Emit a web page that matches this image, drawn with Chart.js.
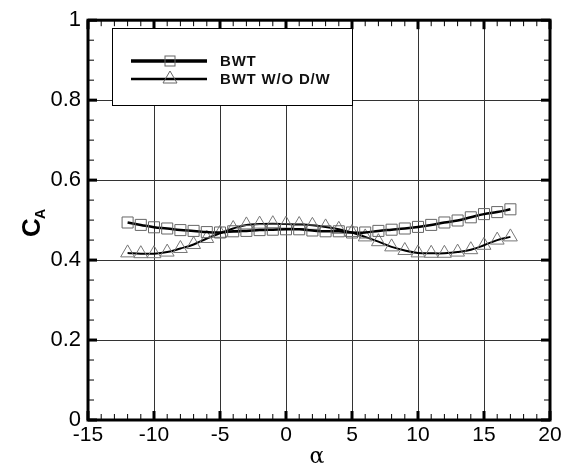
<!DOCTYPE html>
<html>
<head>
<meta charset="utf-8">
<script src="https://cdn.jsdelivr.net/npm/chart.js@4"></script>
<style>
  html, body { margin: 0; padding: 0; background: #fff; }
  #wrap { width: 579px; height: 467px; }
</style>
</head>
<body>
<div id="wrap"><canvas id="chart" width="579" height="467"></canvas></div>
<script>
// ---- DATA ----
const alpha = [-12, -11, -10, -9, -8, -7, -6, -5, -4, -3, -2, -1, 0, 1, 2, 3, 4, 5, 6, 7, 8, 9, 10, 11, 12, 13, 14, 15, 16, 17];
const bwt = [0.494, 0.488, 0.482, 0.479, 0.475, 0.473, 0.470, 0.469, 0.472, 0.473, 0.475, 0.476, 0.477, 0.477, 0.474, 0.472,
             0.472, 0.469, 0.469, 0.473, 0.476, 0.479, 0.483, 0.488, 0.494, 0.499, 0.507, 0.515, 0.520, 0.527];
const bwtNoDW = [0.418, 0.416, 0.416, 0.420, 0.429, 0.439, 0.454, 0.467, 0.479, 0.488, 0.490, 0.491, 0.490, 0.489, 0.487, 0.483,
                 0.477, 0.469, 0.458, 0.446, 0.433, 0.424, 0.418, 0.417, 0.417, 0.420, 0.426, 0.437, 0.450, 0.458];
const xTicks = [-15, -10, -5, 0, 5, 10, 15, 20];
const yTicks = [0, 0.2, 0.4, 0.6, 0.8, 1];
const seriesNames = ['BWT', 'BWT W/O D/W'];

const FONT = '"Liberation Sans", Arial, sans-serif';

// ---- PLUGIN: frame, inner ticks, legend, axis titles ----
const decor = {
  id: 'decor',
  afterDatasetsDraw(chart) {
    const { ctx, chartArea: a, scales: { x, y } } = chart;
    ctx.save();
    ctx.strokeStyle = '#000';
    // minor + major ticks inside
    for (let v = -15; v <= 20; v += 1) {
      const px = x.getPixelForValue(v);
      const major = v % 5 === 0;
      ctx.lineWidth = major ? 3 : 1;
      ctx.beginPath(); ctx.moveTo(px, a.bottom); ctx.lineTo(px, a.bottom - (major ? 9 : 6)); ctx.stroke();
      ctx.beginPath(); ctx.moveTo(px, a.top); ctx.lineTo(px, a.top + (major ? 9 : 6)); ctx.stroke();
    }
    for (let i = 0; i <= 20; i++) {
      const py = y.getPixelForValue(i * 0.05);
      const major = i % 4 === 0;
      ctx.lineWidth = major ? 3 : 1;
      ctx.beginPath(); ctx.moveTo(a.left, py); ctx.lineTo(a.left + (major ? 9 : 6), py); ctx.stroke();
      ctx.beginPath(); ctx.moveTo(a.right, py); ctx.lineTo(a.right - (major ? 9 : 6), py); ctx.stroke();
    }
    // frame
    ctx.lineWidth = 3;
    ctx.strokeRect(a.left, a.top, a.right - a.left, a.bottom - a.top);

    // legend box
    const lx = 112, ly = 28, lw = 240, lh = 77;
    ctx.fillStyle = '#fff';
    ctx.fillRect(lx, ly, lw, lh);
    ctx.lineWidth = 1;
    ctx.strokeRect(lx + 0.5, ly + 0.5, lw, lh);
    const ds = chart.data.datasets;
    [61, 79].forEach((ry, i) => {
      ctx.strokeStyle = '#000';
      ctx.lineWidth = i === 0 ? 3.5 : 2.5;
      ctx.beginPath(); ctx.moveTo(131, ry); ctx.lineTo(207, ry); ctx.stroke();
      ctx.lineWidth = 1;
      ctx.strokeStyle = '#666';
      if (i === 0) {
        ctx.strokeRect(165, ry - 5, 10, 10);
      } else {
        ctx.beginPath(); ctx.moveTo(170, ry - 8); ctx.lineTo(163, ry + 4); ctx.lineTo(177, ry + 4); ctx.closePath(); ctx.stroke();
      }
      ctx.fillStyle = '#111';
      ctx.font = 'bold 15px ' + FONT;
      ctx.letterSpacing = '0.8px';
      ctx.textAlign = 'left';
      ctx.textBaseline = 'middle';
      ctx.fillText(ds[i].label, 220, ry + 1);
      ctx.letterSpacing = '0px';
    });

    // axis titles
    ctx.fillStyle = '#000';
    ctx.textAlign = 'center';
    ctx.textBaseline = 'middle';
    ctx.font = '22px "DejaVu Serif", serif';
    ctx.fillText('\u03b1', (a.left + a.right) / 2 - 2, 457);

    ctx.translate(33, 223);
    ctx.rotate(-Math.PI / 2);
    ctx.font = 'bold 26px ' + FONT;
    ctx.textAlign = 'left';
    ctx.fillText('C', -14, 0);
    ctx.font = 'bold 14px ' + FONT;
    ctx.fillText('A', 4, 8);
    ctx.restore();
  }
};

// ---- CHART ----
const ctx = document.getElementById('chart').getContext('2d');
const chart = new Chart(ctx, {
  type: 'line',
  data: {
    datasets: [
      {
        label: seriesNames[0],
        data: alpha.map((a, i) => ({ x: a, y: bwt[i] })),
        borderColor: '#000', borderWidth: 2.5, tension: 0.4,
        pointStyle: 'rect', pointRadius: 7.8, pointBorderWidth: 1,
        pointBorderColor: '#666', pointBackgroundColor: 'rgba(0,0,0,0)'
      },
      {
        label: seriesNames[1],
        data: alpha.map((a, i) => ({ x: a, y: bwtNoDW[i] })),
        borderColor: '#000', borderWidth: 2, tension: 0.4,
        pointStyle: 'triangle', pointRadius: 8, pointBorderWidth: 1,
        pointBorderColor: '#777', pointBackgroundColor: 'rgba(0,0,0,0)'
      }
    ]
  },
  options: {
    responsive: false,
    animation: false,
    devicePixelRatio: 1,
    layout: { padding: { left: 0, top: 18, right: 29, bottom: 0 } },
    plugins: { legend: { display: false }, tooltip: { enabled: false } },
    scales: {
      x: {
        type: 'linear', min: -15, max: 20,
        afterBuildTicks: s => { s.ticks = xTicks.map(v => ({ value: v })); },
        afterFit: s => { s.height = 47; },
        grid: { color: '#333', lineWidth: 1, drawTicks: false },
        border: { display: false },
        ticks: { color: '#000', padding: 3, font: { family: FONT, size: 21 } }
      },
      y: {
        type: 'linear', min: 0, max: 1,
        afterBuildTicks: s => { s.ticks = yTicks.map(v => ({ value: v })); },
        afterFit: s => { s.width = 88; },
        grid: { color: '#333', lineWidth: 1, drawTicks: false },
        border: { display: false },
        ticks: {
          color: '#000', padding: 7, font: { family: FONT, size: 22 },
          callback: v => String(Math.round(v * 10) / 10)
        }
      }
    }
  },
  plugins: [decor]
});
</script>
</body>
</html>
